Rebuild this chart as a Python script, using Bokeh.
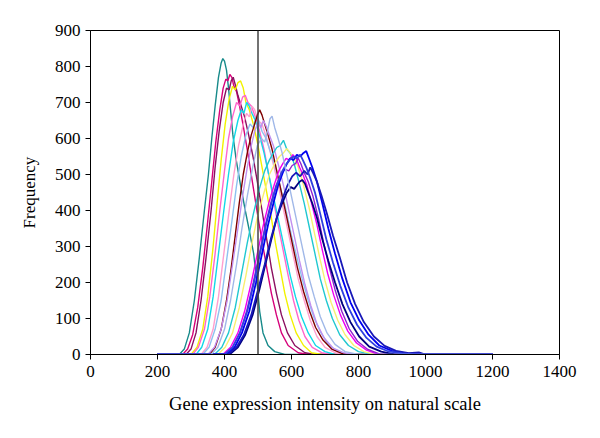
from bokeh.plotting import figure
from bokeh.embed import file_html
from bokeh.resources import INLINE
from bokeh.models import FixedTicker, Span

# ---- data ----
teal_x = [200,265,280,295,310,325,340,352,362,372,382,390,395,400,406,412,418,425,435,448,462,475,487,497,505,515,530,550,580,1200]
teal_y = [0,0,15,60,150,270,400,500,600,690,770,810,822,815,790,740,680,610,540,470,400,340,280,200,120,60,25,8,0,0]

mag2_x = [200,275,290,305,320,335,350,362,374,386,396,404,410,416,422,428,436,445,455,466,478,490,502,515,528,540,555,570,590,620,650,1200]
mag2_y = [0,0,15,55,130,240,370,480,590,680,740,765,760,778,770,745,730,690,640,580,510,440,370,300,230,170,110,60,25,5,0,0]

plum_x = [200,285,300,315,330,345,360,372,384,396,406,414,420,426,432,440,450,460,472,485,498,512,526,540,555,570,588,610,640,670,1200]
plum_y = [0,0,15,60,150,270,400,520,620,700,740,735,760,770,750,720,690,660,610,550,480,400,320,240,170,110,60,25,5,0,0]

yel_x = [200,300,318,335,350,365,378,390,402,414,424,432,440,448,456,464,474,486,498,510,524,538,552,566,580,596,614,636,660,690,1200]
yel_y = [0,0,20,70,160,290,420,540,640,710,745,735,755,760,740,700,680,640,590,530,460,390,310,240,170,110,60,25,5,0,0]

pink_x = [200,305,322,340,356,372,386,400,412,424,436,446,454,462,470,480,492,505,518,532,546,560,575,590,606,622,640,662,690,720,1200]
pink_y = [0,0,20,70,160,280,400,510,600,660,700,690,715,720,700,690,660,620,570,500,430,360,290,220,150,95,50,20,5,0,0]

cyan_x = [200,315,332,350,366,382,398,412,426,440,450,458,466,474,482,492,504,518,532,548,564,580,596,612,630,650,672,700,730,1200]
cyan_y = [0,0,20,70,160,280,400,500,590,650,680,670,700,690,670,650,610,560,500,430,360,290,220,160,105,60,25,8,0,0]

lpink_x = [200,330,348,366,382,398,414,428,442,456,466,474,482,490,500,512,526,540,556,572,588,604,620,638,656,676,700,730,760,1200]
lpink_y = [0,0,20,70,160,280,400,500,580,640,670,660,690,680,650,640,600,550,490,420,350,280,210,150,95,50,20,5,0,0]

lblue_x = [200,335,354,372,390,406,422,436,450,464,476,486,494,502,512,524,538,552,568,584,600,616,632,650,668,688,712,740,770,1200]
lblue_y = [0,0,20,70,150,260,370,470,550,610,640,630,660,650,620,600,560,520,460,400,330,270,210,150,100,60,25,8,0,0]

maroon_x = [200,355,372,390,406,420,432,444,456,468,480,490,498,505,512,520,530,542,556,570,586,602,618,636,654,672,694,720,750,780,1200]
maroon_y = [0,0,20,70,150,240,330,420,500,560,610,640,665,680,665,640,610,570,510,450,380,310,240,175,120,75,40,15,3,0,0]

lav_x = [200,350,370,390,408,424,440,454,468,480,490,500,508,516,524,534,546,560,576,592,608,624,640,658,676,698,724,755,790,1200]
lav_y = [0,0,20,70,150,250,350,440,520,580,620,645,630,650,635,610,580,530,470,400,330,260,195,135,85,45,18,5,0,0]

turq_x = [200,370,392,412,432,450,468,486,504,520,534,546,556,566,576,586,596,608,622,638,654,670,686,704,722,744,770,800,840,1200]
turq_y = [0,0,20,60,130,220,310,390,460,510,540,560,575,580,595,570,560,530,480,420,350,280,210,150,100,55,25,8,0,0]

pyel_x = [200,380,402,424,444,464,482,500,518,534,550,564,576,586,596,608,620,636,652,668,684,700,718,738,760,786,816,850,1200]
pyel_y = [0,0,20,60,130,220,310,390,450,500,530,550,560,572,560,545,520,470,410,340,270,205,145,95,55,25,8,0,0]

mag_x = [200,395,418,440,460,480,498,516,532,548,562,574,584,594,604,614,624,634,646,660,676,692,708,726,746,768,794,824,860,1200]
mag_y = [0,0,20,60,120,200,280,360,420,470,510,530,545,540,555,545,520,500,470,420,360,290,225,165,110,65,32,12,0,0]

purp_x = [200,400,424,446,466,486,504,522,538,554,568,580,592,602,612,620,628,638,650,664,680,696,712,730,750,772,798,828,866,1200]
purp_y = [0,0,20,60,120,200,280,360,420,470,500,515,510,525,530,545,530,505,480,440,380,310,245,180,120,72,36,14,0,0]

navy_x = [200,415,440,462,484,504,522,540,556,572,586,598,608,616,624,632,640,650,662,676,692,710,730,752,776,802,832,868,908,1200]
navy_y = [0,0,20,55,110,180,250,320,380,420,450,465,460,470,480,485,475,450,420,380,320,260,200,140,90,50,22,8,0,0]

blue_x = [200,405,430,452,474,494,512,530,546,560,574,586,596,606,616,626,636,644,652,662,676,692,710,730,752,776,802,830,862,900,940,990,1200]
blue_y = [0,0,20,60,120,200,280,360,420,470,505,530,545,540,555,550,560,565,545,520,480,420,350,280,210,145,95,55,25,10,3,0,0]

dblue_x = [200,410,436,458,480,500,520,538,556,572,588,602,614,626,638,648,656,664,676,690,706,724,744,766,790,816,846,878,912,950,980,1000,1200]
dblue_y = [0,0,20,55,110,180,250,320,380,430,470,495,505,495,510,500,520,505,480,440,390,330,270,200,140,90,50,24,10,4,6,0,0]

royal_x = [200,400,424,446,468,488,506,524,540,556,570,582,594,606,616,626,634,644,656,670,686,704,724,746,770,796,824,854,888,930,965,1200]
royal_y = [0,0,20,60,120,200,280,360,420,470,505,525,540,550,545,555,540,520,490,450,390,320,255,190,130,82,46,22,9,3,0,0]

steel_x = [200,360,380,400,418,436,452,468,484,498,510,520,528,536,542,550,560,572,586,602,618,634,650,668,686,706,730,760,800,1200]
steel_y = [0,0,20,70,150,250,350,440,520,580,600,590,620,655,662,630,600,560,500,430,360,290,220,160,105,60,28,8,0,0]

cut_off = 500
x_ticks = [0, 200, 400, 600, 800, 1000, 1200, 1400]
y_ticks = [0, 100, 200, 300, 400, 500, 600, 700, 800, 900]

series = [
    (teal_x, teal_y, "#178A8A"),
    (mag2_x, mag2_y, "#D6007A"),
    (plum_x, plum_y, "#8B1060"),
    (yel_x, yel_y, "#F2F200"),
    (pink_x, pink_y, "#FF66CC"),
    (cyan_x, cyan_y, "#11D8E8"),
    (lpink_x, lpink_y, "#FF9FCF"),
    (lblue_x, lblue_y, "#8FC0F0"),
    (maroon_x, maroon_y, "#7F0000"),
    (lav_x, lav_y, "#C090F0"),
    (turq_x, turq_y, "#20C8D0"),
    (pyel_x, pyel_y, "#F8F070"),
    (mag_x, mag_y, "#F000F0"),
    (purp_x, purp_y, "#9020D0"),
    (navy_x, navy_y, "#000080"),
    (blue_x, blue_y, "#0000F0"),
    (dblue_x, dblue_y, "#1818B8"),
    (royal_x, royal_y, "#3040E0"),
    (steel_x, steel_y, "#A0B8E8"),
]

FONT = "Liberation Serif"

p = figure(width=592, height=430, frame_width=469, frame_height=324,
           x_range=(0, 1400), y_range=(0, 900),
           output_backend="svg", toolbar_location=None,
           min_border_left=90, min_border_right=33,
           min_border_top=30, min_border_bottom=76)

for xs, ys, c in series:
    w = 1.8 if c in ("#000080", "#0000F0", "#1818B8", "#3040E0") else 1.4
    p.line(xs, ys, line_color=c, line_width=w)

p.add_layout(Span(location=cut_off, dimension="height", line_color="#444444", line_width=1.5))

p.xgrid.visible = False
p.ygrid.visible = False
p.outline_line_color = "black"
p.outline_line_width = 1
p.background_fill_color = "white"
p.border_fill_color = "white"

for ax in (p.xaxis[0], p.yaxis[0]):
    ax.axis_line_color = "black"
    ax.major_tick_line_color = "black"
    ax.major_tick_out = 5
    ax.major_tick_in = 0
    ax.minor_tick_line_color = None
    ax.major_label_text_font = FONT
    ax.major_label_text_font_size = "17px"
    ax.major_label_text_color = "black"
    ax.axis_label_text_font = FONT
    ax.axis_label_text_font_style = "normal"
    ax.axis_label_text_color = "black"

p.xaxis[0].axis_label_text_font_size = "18.5px"
p.yaxis[0].axis_label_text_font_size = "17px"
p.xaxis[0].ticker = FixedTicker(ticks=x_ticks)
p.yaxis[0].ticker = FixedTicker(ticks=y_ticks)
p.xaxis[0].axis_label = "Gene expression intensity on natural scale"
p.yaxis[0].axis_label = "Frequency"
p.xaxis[0].major_label_standoff = 6
p.yaxis[0].major_label_standoff = 5
p.xaxis[0].axis_label_standoff = 14
p.yaxis[0].axis_label_standoff = 13

open("out.html", "w").write(file_html(p, INLINE))
